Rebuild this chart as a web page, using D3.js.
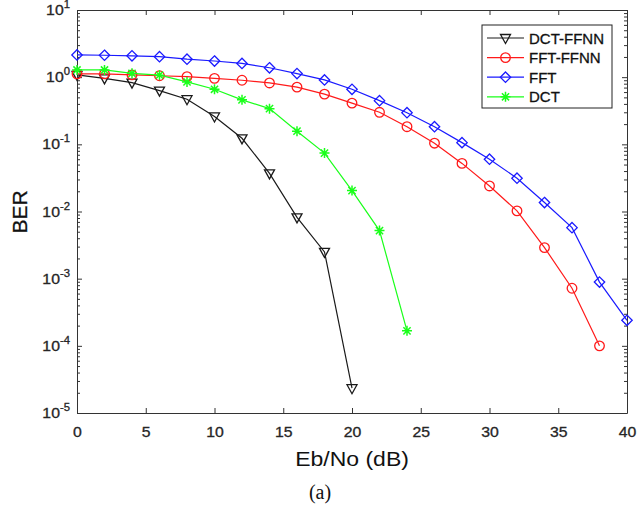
<!DOCTYPE html>
<html>
<head>
<meta charset="utf-8">
<script src="https://cdn.jsdelivr.net/npm/d3@7"></script>
<style>
  html, body { margin: 0; padding: 0; background: #fff; }
  svg { display: block; }
  text { font-family: "Liberation Sans", Arial, sans-serif; }
  .heavy { stroke: currentColor; stroke-width: 0.3px; }
</style>
</head>
<body>
<svg id="chart" width="638" height="508"></svg>
<script>
// Eb/No sample points (dB)
const snr = [0, 2, 4, 6, 8, 10, 12, 14, 16, 18, 20, 22, 24, 26, 28, 30, 32, 34, 36, 38, 40];

// BER per scheme, one value per Eb/No point from 0 dB
const berDctFfnn = [1.08, 0.96, 0.83, 0.63, 0.47, 0.26, 0.123, 0.037, 0.0082, 0.0025, 0.0000234];
const berFftFfnn = [1.12, 1.12, 1.08, 1.05, 1.02, 0.96, 0.90, 0.82, 0.71, 0.56, 0.41, 0.30, 0.183,
                    0.104, 0.052, 0.024, 0.0102, 0.0029, 0.00072, 0.0001];
const berFft     = [2.14, 2.12, 2.08, 2.02, 1.85, 1.74, 1.60, 1.38, 1.13, 0.91, 0.66, 0.447, 0.296,
                    0.183, 0.106, 0.060, 0.0313, 0.0136, 0.00575, 0.00089, 0.00024];
const berDct     = [1.28, 1.28, 1.14, 1.07, 0.85, 0.66, 0.46, 0.34, 0.157, 0.074, 0.0205, 0.0052, 0.000167];

const seriesNames = ["DCT-FFNN", "FFT-FFNN", "FFT", "DCT"];
const xTicks = [0, 5, 10, 15, 20, 25, 30, 35, 40];
const yExponents = [-5, -4, -3, -2, -1, 0, 1];
const xLabel = "Eb/No (dB)";
const yLabel = "BER";
const caption = "(a)";

const series = [
  { name: seriesNames[0], values: berDctFfnn, color: "#1a1a1a", marker: "triangleDown" },
  { name: seriesNames[1], values: berFftFfnn, color: "#ff1a1a", marker: "circle" },
  { name: seriesNames[2], values: berFft,     color: "#1a1aff", marker: "diamond" },
  { name: seriesNames[3], values: berDct,     color: "#1aff1a", marker: "asterisk" }
];

const svg = d3.select("#chart");
const plot = { left: 77, right: 627, top: 10, bottom: 413 };
const axisColor = "#333";
const stretch = 1.13; // horizontal text stretch

const x = d3.scaleLinear().domain([0, 40]).range([plot.left, plot.right]);
const y = d3.scaleLog().domain([1e-5, 10]).range([plot.bottom, plot.top]);

const majorY = yExponents.map(e => Math.pow(10, e));
const minorY = [];
yExponents.slice(0, -1).forEach(e => {
  for (let m = 2; m <= 9; m++) minorY.push(m * Math.pow(10, e));
});

function styleAxis(g) {
  g.selectAll("path.domain").attr("stroke", axisColor).attr("stroke-width", 1);
  g.selectAll(".tick line").attr("stroke", axisColor).attr("stroke-width", 1);
}

// bottom axis with labels
const gx = svg.append("g")
  .attr("transform", `translate(0,${plot.bottom})`)
  .call(d3.axisBottom(x).tickValues(xTicks).tickSize(-5).tickSizeOuter(0).tickPadding(14))
  .call(styleAxis);
gx.selectAll(".tick text")
  .attr("fill", "#262626")
  .attr("class", "heavy")
  .style("color", "#262626")
  .style("font-size", "14px")
  .attr("transform", `scale(${stretch},1)`);

// top axis, ticks only
svg.append("g")
  .attr("transform", `translate(0,${plot.top})`)
  .call(d3.axisTop(x).tickValues(xTicks).tickSize(-5).tickSizeOuter(0).tickFormat(""))
  .call(styleAxis);

// left axis: decades and minor log ticks
svg.append("g")
  .attr("transform", `translate(${plot.left},0)`)
  .call(d3.axisLeft(y).tickValues(majorY).tickSize(-5).tickSizeOuter(0).tickFormat(""))
  .call(styleAxis);
svg.append("g")
  .attr("transform", `translate(${plot.left},0)`)
  .call(d3.axisLeft(y).tickValues(minorY).tickSize(-3).tickSizeOuter(0).tickFormat(""))
  .call(g => g.select("path.domain").remove())
  .call(styleAxis);

// right axis mirror
svg.append("g")
  .attr("transform", `translate(${plot.right},0)`)
  .call(d3.axisRight(y).tickValues(majorY).tickSize(-5).tickSizeOuter(0).tickFormat(""))
  .call(styleAxis);
svg.append("g")
  .attr("transform", `translate(${plot.right},0)`)
  .call(d3.axisRight(y).tickValues(minorY).tickSize(-3).tickSizeOuter(0).tickFormat(""))
  .call(g => g.select("path.domain").remove())
  .call(styleAxis);

// decade labels as 10^n
const yLab = svg.append("g").selectAll("text")
  .data(yExponents)
  .join("text")
  .attr("class", "heavy")
  .attr("text-anchor", "end")
  .attr("fill", "#262626")
  .style("color", "#262626")
  .attr("transform", e => `translate(70,${y(Math.pow(10, e)) + 5}) scale(${stretch},1)`)
  .style("font-size", "14px");
yLab.append("tspan").text("10");
yLab.append("tspan")
  .attr("dy", -7)
  .style("font-size", "10px")
  .text(e => String(e));

// axis titles
svg.append("text")
  .attr("transform", `translate(27,212) rotate(-90)`)
  .attr("text-anchor", "middle")
  .attr("fill", "#111")
  .attr("class", "heavy")
  .style("color", "#111")
  .style("font-size", "21px")
  .text(yLabel);

svg.append("text")
  .attr("transform", `translate(352,466) scale(1.15,1)`)
  .attr("text-anchor", "middle")
  .attr("fill", "#111")
  .style("font-size", "20px")
  .text(xLabel);

svg.append("text")
  .attr("x", 320)
  .attr("y", 499)
  .attr("text-anchor", "middle")
  .attr("fill", "#111")
  .style("font-family", "'Liberation Serif', 'Times New Roman', serif")
  .style("font-size", "20px")
  .text(caption);

// marker shapes
function markerPath(type) {
  switch (type) {
    case "triangleDown": {
      const w = 5, h = 4.5;
      return `M${-w},${-h + 1}L${w},${-h + 1}L0,${h + 1}Z`;
    }
    case "circle": {
      const p = d3.path();
      p.arc(0, 0, 4.8, 0, 2 * Math.PI);
      p.closePath();
      return p.toString();
    }
    case "diamond": {
      const r = 5.2;
      return `M0,${-r}L${r},0L0,${r}L${-r},0Z`;
    }
    case "asterisk": {
      const r = 5, d = 3.6;
      return `M0,${-r}V${r}M${-r},0H${r}M${-d},${-d}L${d},${d}M${-d},${d}L${d},${-d}`;
    }
  }
  return "";
}

const line = d3.line()
  .x((d, i) => x(snr[i]))
  .y(d => y(d));

const gSeries = svg.append("g").selectAll("g")
  .data(series)
  .join("g");

gSeries.append("path")
  .attr("d", s => line(s.values))
  .attr("fill", "none")
  .attr("stroke", s => s.color)
  .attr("stroke-width", 1.2);

gSeries.each(function (s) {
  d3.select(this).selectAll("path.mk")
    .data(s.values)
    .join("path")
    .attr("class", "mk")
    .attr("transform", (d, i) => `translate(${x(snr[i])},${y(d)})`)
    .attr("d", markerPath(s.marker))
    .attr("fill", "none")
    .attr("stroke", s.color)
    .attr("stroke-width", s.marker === "asterisk" ? 1.5 : 1.3);
});

// legend
const legend = svg.append("g");
legend.append("rect")
  .attr("x", 482).attr("y", 25)
  .attr("width", 130).attr("height", 83)
  .attr("fill", "#fff")
  .attr("stroke", "#222")
  .attr("stroke-width", 1);

const items = legend.selectAll("g")
  .data(series)
  .join("g")
  .attr("transform", (s, i) => `translate(0,${38 + i * 19.6})`);
items.append("line")
  .attr("x1", 487).attr("x2", 524)
  .attr("y1", 0).attr("y2", 0)
  .attr("stroke", s => s.color)
  .attr("stroke-width", 1.2);
items.append("path")
  .attr("transform", "translate(505.5,0)")
  .attr("d", s => markerPath(s.marker))
  .attr("fill", "none")
  .attr("stroke", s => s.color)
  .attr("stroke-width", s => s.marker === "asterisk" ? 1.5 : 1.3);
items.append("text")
  .attr("x", 529)
  .attr("y", 5.5)
  .attr("fill", "#111")
  .attr("class", "heavy")
  .style("color", "#111")
  .style("font-size", "15px")
  .text(s => s.name);
</script>
</body>
</html>
